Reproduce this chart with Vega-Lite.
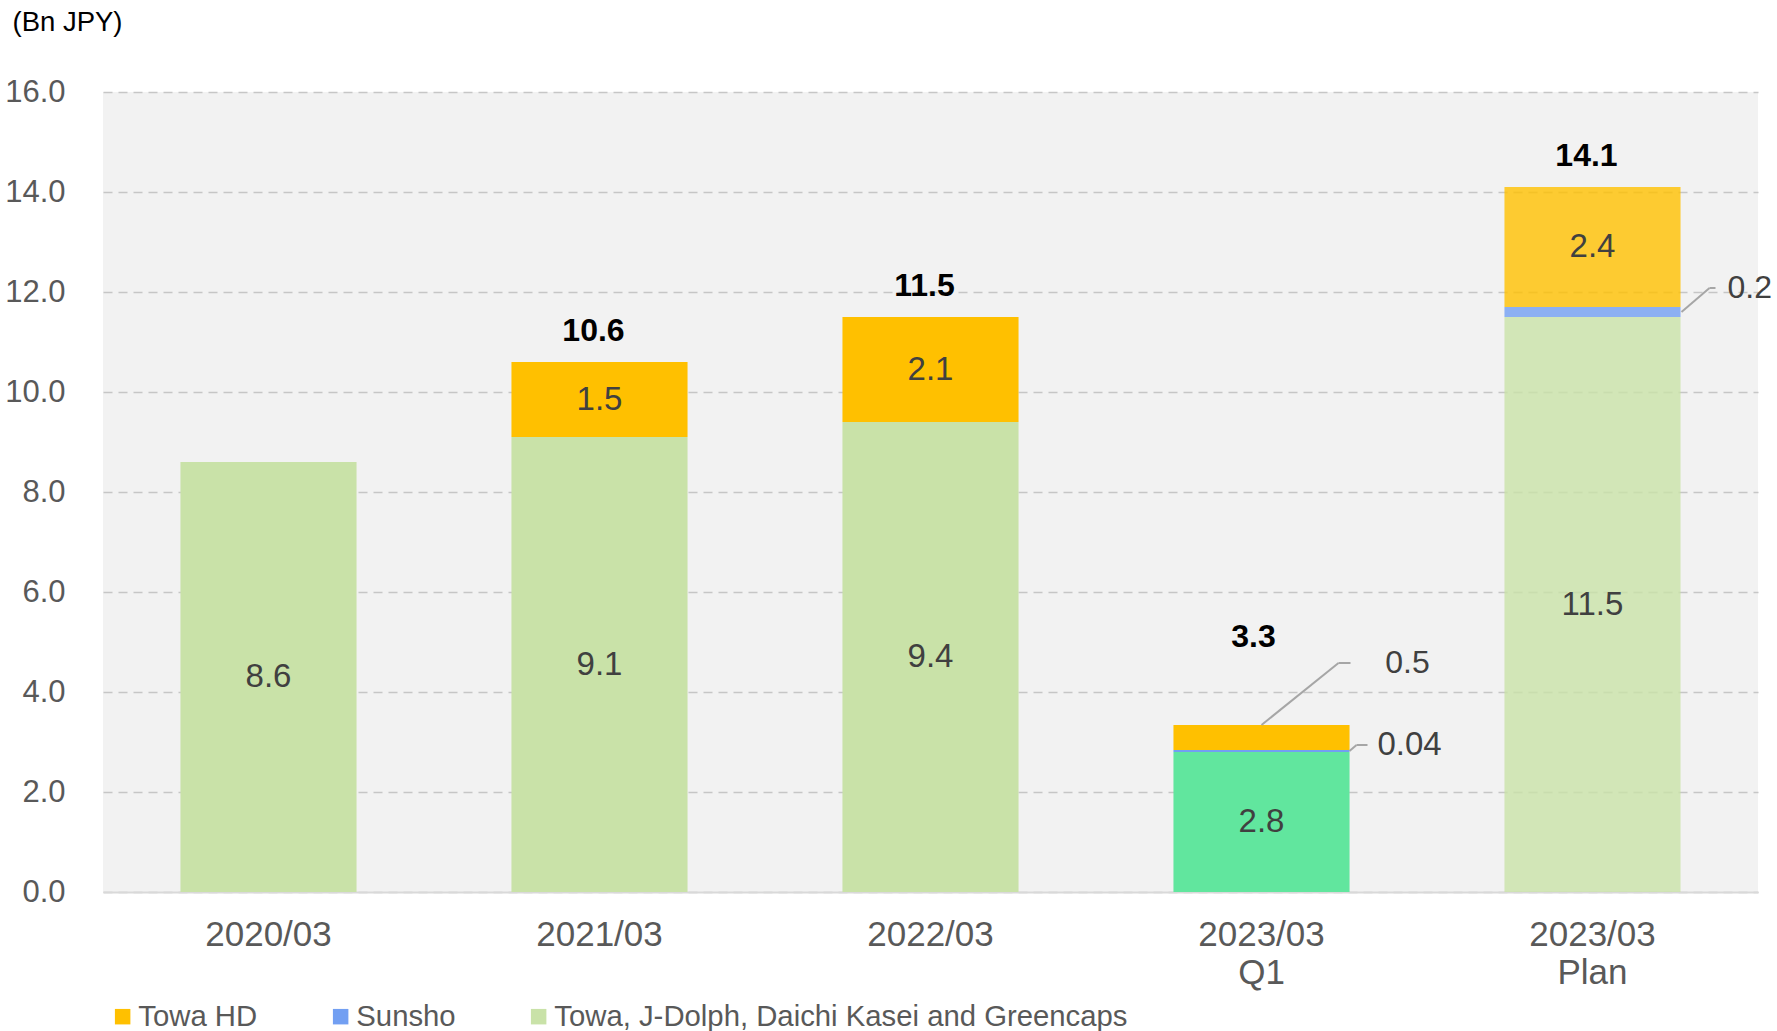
{
  "$schema": "https://vega.github.io/schema/vega-lite/v6.json",
  "width": 1655,
  "height": 800,
  "autosize": {"type": "none"},
  "padding": {"left": 103, "top": 92, "right": 19, "bottom": 139},
  "background": "#FFFFFF",
  "config": {
    "view": {"fill": "#F2F2F2", "stroke": null},
    "font": "Liberation Sans"
  },
  "data": {
    "values": [
      {"cat": "2020/03", "series": "Towa, J-Dolph, Daichi Kasei and Greencaps", "value": 8.6},
      {"cat": "2021/03", "series": "Towa, J-Dolph, Daichi Kasei and Greencaps", "value": 9.1},
      {"cat": "2021/03", "series": "Towa HD", "value": 1.5},
      {"cat": "2022/03", "series": "Towa, J-Dolph, Daichi Kasei and Greencaps", "value": 9.4},
      {"cat": "2022/03", "series": "Towa HD", "value": 2.1},
      {"cat": "2023/03 Q1", "series": "Towa, J-Dolph, Daichi Kasei and Greencaps", "value": 2.8},
      {"cat": "2023/03 Q1", "series": "Sunsho", "value": 0.04},
      {"cat": "2023/03 Q1", "series": "Towa HD", "value": 0.5},
      {"cat": "2023/03 Plan", "series": "Towa, J-Dolph, Daichi Kasei and Greencaps", "value": 11.5},
      {"cat": "2023/03 Plan", "series": "Sunsho", "value": 0.2},
      {"cat": "2023/03 Plan", "series": "Towa HD", "value": 2.4}
    ]
  },
  "transform": [
    {"stack": "value", "groupby": ["cat"], "as": ["v0", "v1"]},
    {"calculate": "(datum.v0 + datum.v1) / 2", "as": "mid"}
  ],
  "encoding": {
    "x": {
      "field": "cat",
      "type": "nominal",
      "sort": ["2020/03", "2021/03", "2022/03", "2023/03 Q1", "2023/03 Plan"],
      "scale": {"paddingInner": 0.468, "paddingOuter": 0.234},
      "axis": {
        "title": null,
        "labelExpr": "split(datum.value, ' ')",
        "labelAngle": 0,
        "labelFontSize": 35,
        "labelColor": "#595959",
        "labelPadding": 25,
        "labelLineHeight": 38,
        "ticks": false,
        "domainColor": "#D9D9D9",
        "domainWidth": 2
      }
    }
  },
  "layer": [
    {
      "mark": {"type": "bar"},
      "encoding": {
        "y": {
          "field": "v1",
          "type": "quantitative",
          "title": "(Bn JPY)",
          "scale": {"domain": [0, 16], "nice": false, "zero": true},
          "axis": {
            "values": [0, 2, 4, 6, 8, 10, 12, 14, 16],
            "format": ".1f",
            "grid": true,
            "gridDash": [9, 6],
            "gridColor": "#C6C6C6",
            "gridWidth": 1.5,
            "domain": false,
            "ticks": false,
            "labelFontSize": 31,
            "labelColor": "#595959",
            "labelPadding": 38,
            "titleAngle": 0,
            "titleX": -91,
            "titleY": -70,
            "titleAlign": "left",
            "titleBaseline": "middle",
            "titleFontSize": 27.5,
            "titleFontWeight": "normal",
            "titleColor": "#000000"
          }
        },
        "y2": {"field": "v0"},
        "color": {
          "condition": {
            "test": "datum.cat === '2023/03 Q1' && datum.series === 'Towa, J-Dolph, Daichi Kasei and Greencaps'",
            "value": "#61E69E"
          },
          "field": "series",
          "type": "nominal",
          "scale": {
            "domain": ["Towa HD", "Sunsho", "Towa, J-Dolph, Daichi Kasei and Greencaps"],
            "range": ["#FFC000", "#729FF2", "#C9E2A8"]
          },
          "legend": {
            "orient": "none",
            "legendX": 5,
            "legendY": 910,
            "direction": "horizontal",
            "title": null,
            "symbolType": "square",
            "symbolSize": 240,
            "symbolStrokeWidth": 0,
            "symbolOpacity": 1,
            "labelFontSize": 29.3,
            "labelColor": "#595959",
            "labelOffset": 1,
            "labelLimit": 0,
            "columnPadding": 68,
            "padding": 0
          }
        },
        "opacity": {
          "condition": {"test": "datum.cat === '2023/03 Plan'", "value": 0.8},
          "value": 1
        }
      }
    },
    {
      "transform": [{"filter": "datum.value >= 1"}],
      "mark": {"type": "text", "fontSize": 33, "color": "#404040", "align": "center", "baseline": "middle"},
      "encoding": {
        "y": {"field": "mid", "type": "quantitative", "title": "(Bn JPY)"},
        "text": {"field": "value", "type": "quantitative", "format": ".1f"}
      }
    },
    {
      "transform": [{"filter": "datum.cat !== '2020/03' && datum.cat !== '2023/03 Q1'"}],
      "mark": {"type": "text", "fontSize": 32, "fontWeight": "bold", "color": "#000000", "align": "center", "baseline": "middle", "dy": -31, "dx": -6},
      "encoding": {
        "y": {"aggregate": "sum", "field": "value", "type": "quantitative", "title": "(Bn JPY)"},
        "text": {"aggregate": "sum", "field": "value", "type": "quantitative", "format": ".1f"}
      }
    },
    {
      "transform": [{"filter": "datum.cat === '2023/03 Q1'"}],
      "mark": {"type": "text", "fontSize": 32, "fontWeight": "bold", "color": "#000000", "align": "center", "baseline": "middle", "dy": -88, "dx": -8},
      "encoding": {
        "y": {"aggregate": "sum", "field": "value", "type": "quantitative", "title": "(Bn JPY)"},
        "text": {"aggregate": "sum", "field": "value", "type": "quantitative", "format": ".1f"}
      }
    },
    {
      "transform": [{"filter": "datum.cat === '2023/03 Q1' && datum.series === 'Towa HD'"}],
      "mark": {"type": "rule", "color": "#A6A6A6", "strokeWidth": 2, "x2Offset": 77, "y2Offset": -62},
      "encoding": {
        "x2": {"field": "cat"},
        "y": {"field": "v1", "type": "quantitative", "title": "(Bn JPY)"},
        "y2": {"field": "v1"}
      }
    },
    {
      "transform": [{"filter": "datum.cat === '2023/03 Q1' && datum.series === 'Towa HD'"}],
      "mark": {"type": "rule", "color": "#A6A6A6", "strokeWidth": 2, "xOffset": 77, "x2Offset": 89, "yOffset": -62, "y2Offset": -62},
      "encoding": {
        "x2": {"field": "cat"},
        "y": {"field": "v1", "type": "quantitative", "title": "(Bn JPY)"},
        "y2": {"field": "v1"}
      }
    },
    {
      "transform": [{"filter": "datum.cat === '2023/03 Q1' && datum.series === 'Towa HD'"}],
      "mark": {"type": "text", "fontSize": 32, "color": "#404040", "align": "center", "baseline": "middle", "dx": 146, "dy": -62},
      "encoding": {
        "y": {"field": "v1", "type": "quantitative", "title": "(Bn JPY)"},
        "text": {"field": "value", "type": "nominal"}
      }
    },
    {
      "transform": [{"filter": "datum.cat === '2023/03 Q1' && datum.series === 'Sunsho'"}],
      "mark": {"type": "rule", "color": "#A6A6A6", "strokeWidth": 2, "xOffset": 88, "x2Offset": 95, "y2Offset": -6},
      "encoding": {
        "x2": {"field": "cat"},
        "y": {"field": "mid", "type": "quantitative", "title": "(Bn JPY)"},
        "y2": {"field": "mid"}
      }
    },
    {
      "transform": [{"filter": "datum.cat === '2023/03 Q1' && datum.series === 'Sunsho'"}],
      "mark": {"type": "rule", "color": "#A6A6A6", "strokeWidth": 2, "xOffset": 95, "x2Offset": 106, "yOffset": -6, "y2Offset": -6},
      "encoding": {
        "x2": {"field": "cat"},
        "y": {"field": "mid", "type": "quantitative", "title": "(Bn JPY)"},
        "y2": {"field": "mid"}
      }
    },
    {
      "transform": [{"filter": "datum.cat === '2023/03 Q1' && datum.series === 'Sunsho'"}],
      "mark": {"type": "text", "fontSize": 33, "color": "#404040", "align": "left", "baseline": "middle", "dx": 116, "dy": -6},
      "encoding": {
        "y": {"field": "mid", "type": "quantitative", "title": "(Bn JPY)"},
        "text": {"field": "value", "type": "nominal"}
      }
    },
    {
      "transform": [{"filter": "datum.cat === '2023/03 Plan' && datum.series === 'Sunsho'"}],
      "mark": {"type": "rule", "color": "#A6A6A6", "strokeWidth": 2, "xOffset": 89, "x2Offset": 117, "y2Offset": -24},
      "encoding": {
        "x2": {"field": "cat"},
        "y": {"field": "mid", "type": "quantitative", "title": "(Bn JPY)"},
        "y2": {"field": "mid"}
      }
    },
    {
      "transform": [{"filter": "datum.cat === '2023/03 Plan' && datum.series === 'Sunsho'"}],
      "mark": {"type": "rule", "color": "#A6A6A6", "strokeWidth": 2, "xOffset": 117, "x2Offset": 123, "yOffset": -24, "y2Offset": -24},
      "encoding": {
        "x2": {"field": "cat"},
        "y": {"field": "mid", "type": "quantitative", "title": "(Bn JPY)"},
        "y2": {"field": "mid"}
      }
    },
    {
      "transform": [{"filter": "datum.cat === '2023/03 Plan' && datum.series === 'Sunsho'"}],
      "mark": {"type": "text", "fontSize": 32, "color": "#404040", "align": "left", "baseline": "middle", "dx": 135, "dy": -24},
      "encoding": {
        "y": {"field": "mid", "type": "quantitative", "title": "(Bn JPY)"},
        "text": {"field": "value", "type": "nominal"}
      }
    }
  ]
}
